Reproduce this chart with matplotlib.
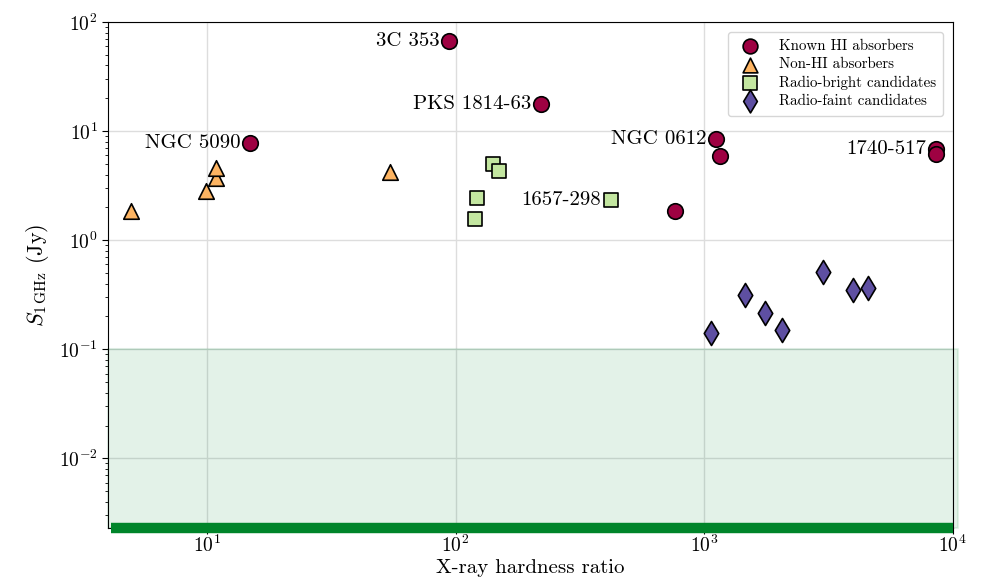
import matplotlib
matplotlib.use("Agg")
import matplotlib.pyplot as plt
import numpy as np

plt.rcParams["font.family"] = "serif"
plt.rcParams["font.serif"] = ["cmr10", "DejaVu Serif"]
plt.rcParams["mathtext.fontset"] = "cm"
plt.rcParams["axes.formatter.use_mathtext"] = True

# Known HI absorbers
hi_names = ["NGC 5090", "3C 353", "PKS 1814-63", "NGC 0612", "", "", "1740-517", ""]
hi_x = [14.9, 94.2, 221, 1117, 1159, 764, 8590, 8590]
hi_y = [7.76, 67.0, 17.7, 8.45, 5.9, 1.85, 6.84, 6.15]

# Non-HI absorbers
nonhi_x = [4.94, 9.9, 10.9, 10.9, 54.5]
nonhi_y = [1.85, 2.82, 3.70, 4.58, 4.20]

# Radio-bright candidates
bright_names = ["", "", "", "", "1657-298"]
bright_x = [141.6, 149.6, 122, 119.7, 422]
bright_y = [4.98, 4.30, 2.43, 1.56, 2.33]

# Radio-faint candidates
faint_x = [1067, 1462, 1758, 2060, 3013, 3985, 4574]
faint_y = [0.140, 0.313, 0.214, 0.149, 0.508, 0.348, 0.363]

flux_limit = 0.1
xlim = (4.0, 1.0e4)
ylim = (2.3e-3, 100)

fig = plt.figure(figsize=(9.84, 5.79), dpi=100)
ax = fig.add_axes([0.110, 0.088, 0.858, 0.874])
ax.set_xscale("log")
ax.set_yscale("log")
ax.set_xlim(*xlim)
ax.set_ylim(*ylim)

ax.grid(True, which="major", color="#dddddd", lw=1.0, zorder=0)
ax.set_axisbelow(True)

# region below the flux limit
ax.fill_between([xlim[0], 1.05e4], ylim[0], flux_limit, facecolor="#008a30",
                alpha=0.11, lw=1.5, edgecolor="#008a30",
                clip_on=False, zorder=1)
ax.plot([4.1, xlim[1]], [ylim[0], ylim[0]], color="#00852a", lw=7.5,
        solid_capstyle="butt", clip_on=False, zorder=5)

kw = dict(edgecolors="black", linewidths=1.2, zorder=4)
ax.scatter(hi_x, hi_y, marker="o", s=125, c="#9e0142", label="Known HI absorbers", **kw)
ax.scatter(nonhi_x, nonhi_y, marker="^", s=125, c="#fdb462", label="Non-HI absorbers", **kw)
ax.scatter(bright_x, bright_y, marker="s", s=110, c="#c3e6a0", label="Radio-bright candidates", **kw)
ax.scatter(faint_x, faint_y, marker="d", s=150, c="#5e4fa2", label="Radio-faint candidates", **kw)

for name, x, y in list(zip(hi_names, hi_x, hi_y)) + list(zip(bright_names, bright_x, bright_y)):
    if name:
        ax.annotate(name, (x, y), xytext=(-7, 0), textcoords="offset points",
                    ha="right", va="center", fontsize=15, zorder=6)

ax.tick_params(axis="both", which="major", labelsize=14, length=4, direction="out")
ax.tick_params(axis="x", which="major", pad=1)
ax.tick_params(axis="y", which="minor", length=2)
ax.tick_params(axis="x", which="minor", length=0)
ax.set_xlabel("X-ray hardness ratio", fontsize=15, labelpad=2)
ax.set_ylabel(r"$S_{1\,\mathrm{GHz}}$ (Jy)", fontsize=16, labelpad=6)

leg = ax.legend(loc="upper right", fontsize=10.8, frameon=True, fancybox=True,
                handletextpad=0.9, borderpad=0.5, labelspacing=0.3,
                markerscale=0.95, bbox_to_anchor=(0.998, 0.995))
leg.get_frame().set_edgecolor("#cccccc")

fig.savefig("out.png", dpi=100)
